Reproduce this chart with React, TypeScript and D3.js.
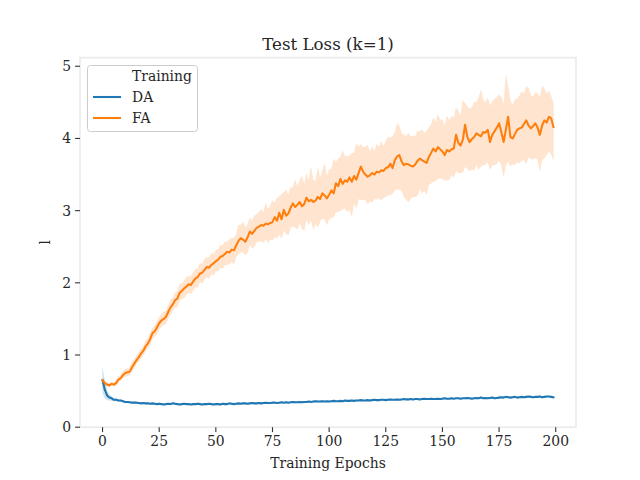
import React from "react";
import * as d3 from "d3";

const EPOCHS: number[] = d3.range(0, 200);

const FA_MEAN: number[] = [
  0.65, 0.61, 0.59, 0.58, 0.60, 0.59, 0.61, 0.66, 0.68, 0.72,
  0.75, 0.76, 0.77, 0.83, 0.88, 0.93, 0.97, 1.02, 1.06, 1.12,
  1.16, 1.22, 1.30, 1.33, 1.38, 1.44, 1.48, 1.50, 1.53, 1.60,
  1.66, 1.70, 1.76, 1.78, 1.86, 1.89, 1.92, 1.95, 1.98, 1.97,
  2.02, 2.06, 2.08, 2.13, 2.14, 2.18, 2.22, 2.21, 2.25, 2.27,
  2.30, 2.32, 2.36, 2.37, 2.40, 2.43, 2.42, 2.46, 2.45, 2.52,
  2.58, 2.62, 2.60, 2.57, 2.63, 2.71, 2.68, 2.72, 2.76, 2.78,
  2.80, 2.79, 2.82, 2.81, 2.83, 2.84, 2.91, 2.86, 2.97, 2.88,
  3.01, 2.93, 2.96, 3.04, 3.10, 3.05, 3.08, 3.12, 3.06, 3.09,
  3.18, 3.13, 3.15, 3.12, 3.14, 3.19, 3.16, 3.24, 3.21, 3.17,
  3.22, 3.28, 3.24, 3.38, 3.34, 3.44, 3.37, 3.42, 3.40, 3.46,
  3.40, 3.48, 3.43, 3.52, 3.61, 3.54, 3.50, 3.47, 3.49, 3.52,
  3.50, 3.54, 3.53, 3.56, 3.55, 3.59, 3.60, 3.65, 3.59, 3.70,
  3.75, 3.77, 3.68, 3.63, 3.65, 3.64, 3.62, 3.61, 3.64, 3.69,
  3.72, 3.70, 3.68, 3.66, 3.74, 3.80, 3.86, 3.82, 3.88, 3.85,
  3.82, 3.77, 3.84, 3.82, 3.85, 3.86, 4.05, 3.94, 3.90, 3.98,
  4.19, 4.02, 3.95, 3.99, 4.02, 4.07, 4.05, 4.03, 4.09, 4.08,
  4.12, 3.95, 4.05, 4.10, 4.15, 4.21, 4.09, 3.95, 4.12, 4.30,
  4.02, 4.00, 4.06, 4.12, 4.14, 4.15, 4.20, 4.25, 4.18, 4.14,
  4.17, 4.21, 4.15, 4.05, 4.18, 4.25, 4.22, 4.30, 4.28, 4.16,
];

const FA_UP: number[] = [
  0.04, 0.03, 0.03, 0.03, 0.03, 0.03, 0.04, 0.05, 0.04, 0.05,
  0.06, 0.05, 0.06, 0.07, 0.06, 0.06, 0.07, 0.06, 0.07, 0.08,
  0.07, 0.08, 0.07, 0.08, 0.09, 0.08, 0.09, 0.10, 0.08, 0.09,
  0.10, 0.09, 0.11, 0.10, 0.12, 0.10, 0.11, 0.13, 0.11, 0.12,
  0.12, 0.13, 0.11, 0.14, 0.12, 0.15, 0.13, 0.14, 0.16, 0.13,
  0.15, 0.14, 0.16, 0.15, 0.17, 0.14, 0.18, 0.16, 0.17, 0.15,
  0.22, 0.18, 0.24, 0.20, 0.17, 0.19, 0.18, 0.21, 0.19, 0.20,
  0.22, 0.19, 0.28, 0.21, 0.24, 0.30, 0.20, 0.32, 0.22, 0.35,
  0.24, 0.36, 0.26, 0.28, 0.22, 0.38, 0.25, 0.30, 0.42, 0.27,
  0.33, 0.28, 0.45, 0.30, 0.27, 0.40, 0.29, 0.31, 0.44, 0.30,
  0.35, 0.30, 0.48, 0.29, 0.38, 0.31, 0.46, 0.33, 0.35, 0.30,
  0.40, 0.32, 0.50, 0.36, 0.31, 0.34, 0.38, 0.44, 0.33, 0.36,
  0.32, 0.38, 0.35, 0.40, 0.34, 0.37, 0.42, 0.36, 0.44, 0.38,
  0.46, 0.40, 0.39, 0.42, 0.38, 0.44, 0.40, 0.43, 0.39, 0.41,
  0.38, 0.42, 0.40, 0.44, 0.41, 0.39, 0.43, 0.40, 0.45, 0.41,
  0.44, 0.40, 0.47, 0.43, 0.46, 0.42, 0.38, 0.44, 0.41, 0.55,
  0.30, 0.42, 0.46, 0.44, 0.48, 0.43, 0.52, 0.64, 0.45, 0.42,
  0.44, 0.50, 0.46, 0.45, 0.42, 0.40, 0.48, 0.52, 0.76, 0.42,
  0.50, 0.46, 0.48, 0.43, 0.45, 0.50, 0.42, 0.47, 0.52, 0.46,
  0.40, 0.43, 0.47, 0.52, 0.55, 0.44, 0.40, 0.36, 0.30, 0.32,
];

const FA_DOWN: number[] = [
  0.03, 0.03, 0.03, 0.03, 0.02, 0.03, 0.03, 0.04, 0.04, 0.04,
  0.05, 0.05, 0.05, 0.06, 0.06, 0.05, 0.06, 0.07, 0.06, 0.07,
  0.07, 0.08, 0.07, 0.08, 0.09, 0.08, 0.09, 0.08, 0.10, 0.09,
  0.10, 0.09, 0.10, 0.12, 0.10, 0.11, 0.13, 0.11, 0.12, 0.12,
  0.13, 0.12, 0.14, 0.12, 0.15, 0.13, 0.14, 0.15, 0.13, 0.16,
  0.14, 0.16, 0.15, 0.17, 0.15, 0.18, 0.16, 0.17, 0.19, 0.16,
  0.18, 0.20, 0.17, 0.19, 0.21, 0.18, 0.20, 0.22, 0.19, 0.21,
  0.22, 0.24, 0.21, 0.26, 0.23, 0.25, 0.28, 0.24, 0.30, 0.26,
  0.28, 0.25, 0.30, 0.27, 0.32, 0.28, 0.34, 0.29, 0.31, 0.36,
  0.30, 0.33, 0.28, 0.38, 0.32, 0.42, 0.31, 0.35, 0.33, 0.37,
  0.34, 0.38, 0.33, 0.40, 0.36, 0.44, 0.35, 0.39, 0.42, 0.45,
  0.48, 0.37, 0.40, 0.36, 0.46, 0.39, 0.35, 0.38, 0.36, 0.41,
  0.34, 0.38, 0.36, 0.42, 0.37, 0.40, 0.38, 0.44, 0.35, 0.42,
  0.45, 0.48, 0.40, 0.44, 0.50, 0.52, 0.46, 0.42, 0.45, 0.48,
  0.42, 0.46, 0.40, 0.44, 0.38, 0.42, 0.46, 0.41, 0.44, 0.40,
  0.38, 0.35, 0.42, 0.39, 0.36, 0.40, 0.50, 0.42, 0.38, 0.45,
  0.58, 0.44, 0.40, 0.42, 0.46, 0.43, 0.48, 0.42, 0.46, 0.44,
  0.45, 0.38, 0.42, 0.47, 0.50, 0.52, 0.46, 0.48, 0.48, 0.62,
  0.40, 0.36, 0.42, 0.45, 0.48, 0.46, 0.50, 0.60, 0.44, 0.42,
  0.46, 0.48, 0.44, 0.50, 0.48, 0.52, 0.45, 0.48, 0.50, 0.46,
];

const DA_MEAN: number[] = [
  0.65, 0.52, 0.44, 0.41, 0.40, 0.38, 0.38, 0.37, 0.37, 0.36,
  0.35, 0.35, 0.345, 0.34, 0.34, 0.34, 0.335, 0.33, 0.335, 0.33,
  0.33, 0.325, 0.33, 0.325, 0.32, 0.325, 0.32, 0.315, 0.32, 0.325,
  0.32, 0.33, 0.325, 0.32, 0.315, 0.32, 0.325, 0.32, 0.32, 0.315,
  0.32, 0.32, 0.325, 0.32, 0.315, 0.32, 0.32, 0.325, 0.32, 0.315,
  0.32, 0.32, 0.315, 0.325, 0.32, 0.32, 0.33, 0.325, 0.32, 0.325,
  0.33, 0.325, 0.33, 0.33, 0.325, 0.33, 0.335, 0.33, 0.33, 0.335,
  0.33, 0.335, 0.34, 0.335, 0.335, 0.34, 0.34, 0.335, 0.34, 0.345,
  0.34, 0.345, 0.34, 0.345, 0.35, 0.345, 0.345, 0.35, 0.345, 0.35,
  0.35, 0.355, 0.35, 0.355, 0.36, 0.355, 0.355, 0.36, 0.355, 0.36,
  0.355, 0.36, 0.365, 0.36, 0.36, 0.365, 0.36, 0.37, 0.365, 0.365,
  0.37, 0.365, 0.37, 0.37, 0.375, 0.37, 0.37, 0.375, 0.37, 0.375,
  0.38, 0.375, 0.375, 0.38, 0.38, 0.375, 0.38, 0.385, 0.38, 0.38,
  0.385, 0.38, 0.385, 0.39, 0.385, 0.385, 0.39, 0.385, 0.39, 0.39,
  0.385, 0.39, 0.395, 0.39, 0.39, 0.395, 0.39, 0.39, 0.395, 0.39,
  0.395, 0.40, 0.395, 0.395, 0.40, 0.395, 0.40, 0.40, 0.395, 0.40,
  0.40, 0.405, 0.40, 0.395, 0.40, 0.405, 0.40, 0.41, 0.40, 0.405,
  0.40, 0.405, 0.41, 0.40, 0.405, 0.41, 0.415, 0.41, 0.42, 0.415,
  0.41, 0.415, 0.42, 0.41, 0.415, 0.42, 0.415, 0.42, 0.425, 0.42,
  0.415, 0.42, 0.42, 0.425, 0.415, 0.42, 0.425, 0.425, 0.42, 0.415,
];

const DA_CI: number[] = [
  0.17, 0.12, 0.06, 0.04, 0.03, 0.02, 0.02, 0.015, 0.015, 0.015,
  0.012, 0.012, 0.01, 0.012, 0.01, 0.01, 0.012, 0.01, 0.01, 0.012,
  0.01, 0.01, 0.012, 0.01, 0.01, 0.012, 0.01, 0.01, 0.012, 0.01,
  0.01, 0.012, 0.01, 0.01, 0.012, 0.01, 0.01, 0.012, 0.01, 0.01,
  0.012, 0.01, 0.01, 0.012, 0.01, 0.01, 0.012, 0.01, 0.01, 0.012,
  0.01, 0.01, 0.012, 0.01, 0.01, 0.012, 0.01, 0.01, 0.012, 0.01,
  0.01, 0.012, 0.01, 0.01, 0.012, 0.01, 0.01, 0.012, 0.01, 0.01,
  0.012, 0.01, 0.01, 0.012, 0.01, 0.01, 0.012, 0.01, 0.01, 0.012,
  0.01, 0.01, 0.012, 0.01, 0.01, 0.012, 0.01, 0.01, 0.012, 0.01,
  0.01, 0.012, 0.01, 0.01, 0.012, 0.01, 0.01, 0.012, 0.01, 0.01,
  0.012, 0.01, 0.01, 0.012, 0.01, 0.01, 0.012, 0.01, 0.01, 0.012,
  0.01, 0.01, 0.012, 0.01, 0.01, 0.012, 0.01, 0.01, 0.012, 0.01,
  0.01, 0.012, 0.01, 0.01, 0.012, 0.01, 0.01, 0.012, 0.01, 0.01,
  0.012, 0.01, 0.01, 0.012, 0.01, 0.01, 0.012, 0.01, 0.01, 0.012,
  0.01, 0.01, 0.012, 0.01, 0.01, 0.012, 0.01, 0.01, 0.012, 0.01,
  0.01, 0.012, 0.01, 0.01, 0.012, 0.01, 0.01, 0.012, 0.01, 0.01,
  0.012, 0.01, 0.01, 0.012, 0.01, 0.01, 0.012, 0.01, 0.01, 0.012,
  0.01, 0.01, 0.012, 0.01, 0.01, 0.012, 0.01, 0.01, 0.012, 0.01,
  0.01, 0.012, 0.01, 0.01, 0.012, 0.01, 0.01, 0.012, 0.01, 0.01,
  0.012, 0.01, 0.01, 0.012, 0.01, 0.01, 0.012, 0.01, 0.01, 0.012,
];

const X_TICKS: number[] = [0, 25, 50, 75, 100, 125, 150, 175, 200];
const Y_TICKS: number[] = [0, 1, 2, 3, 4, 5];
const SERIES_NAMES: string[] = ["DA", "FA"];
const SERIES_COLORS: string[] = ["#1f77b4", "#ff7f0e"];

const W = 640;
const H = 480;
const L = 80;
const R = 576;
const T = 57.6;
const B = 427.2;
const FONT = "'DejaVu Serif', serif";

type Pt = { x: number; m: number; lo: number; hi: number };

export default function App() {
  const x = d3.scaleLinear().domain([-9.95, 208.95]).range([L, R]);
  const y = d3.scaleLinear().domain([0, 5.12]).range([B, T]);

  const da: Pt[] = EPOCHS.map((e, i) => ({
    x: e,
    m: DA_MEAN[i],
    lo: DA_MEAN[i] - DA_CI[i],
    hi: DA_MEAN[i] + DA_CI[i],
  }));
  const fa: Pt[] = EPOCHS.map((e, i) => ({
    x: e,
    m: FA_MEAN[i],
    lo: FA_MEAN[i] - FA_DOWN[i],
    hi: FA_MEAN[i] + FA_UP[i],
  }));
  const series = [da, fa];

  const area = d3
    .area<Pt>()
    .x((d) => x(d.x))
    .y0((d) => y(d.lo))
    .y1((d) => y(d.hi));
  const line = d3
    .line<Pt>()
    .x((d) => x(d.x))
    .y((d) => y(d.m));

  const spine = "#ebebeb";
  const tickColor = "#333";

  return (
    <svg
      width={W}
      height={H}
      style={{ position: "absolute", left: 0, top: 0, background: "#fff" }}
      fontFamily={FONT}
    >
      <rect x={0} y={0} width={W} height={H} fill="#fff" />
      {series.map((s, i) => (
        <path key={"a" + i} d={area(s) || ""} fill={SERIES_COLORS[i]} fillOpacity={0.2} stroke={SERIES_COLORS[i]} strokeOpacity={0.08} strokeWidth={0.6} />
      ))}
      {series.map((s, i) => (
        <path key={"l" + i} d={line(s) || ""} fill="none" stroke={SERIES_COLORS[i]} strokeWidth={2.08} strokeLinejoin="round" strokeLinecap="square" />
      ))}
      {/* spines */}
      <rect x={L} y={T} width={R - L} height={B - T} fill="none" stroke={spine} strokeWidth={1.7} />
      {/* ticks */}
      {X_TICKS.map((t) => (
        <g key={"x" + t}>
          <line x1={x(t)} x2={x(t)} y1={B} y2={B + 4.9} stroke={tickColor} strokeWidth={1.1} />
          <text x={x(t)} y={B + 19} textAnchor="middle" fontSize={13.9} fill="#262626">
            {t}
          </text>
        </g>
      ))}
      {Y_TICKS.map((t) => (
        <g key={"y" + t}>
          <line x1={L - 4.9} x2={L} y1={y(t)} y2={y(t)} stroke={tickColor} strokeWidth={1.1} />
          <text x={L - 9} y={y(t) + 5} textAnchor="end" fontSize={13.9} fill="#262626">
            {t}
          </text>
        </g>
      ))}
      <text x={(L + R) / 2} y={468} textAnchor="middle" fontSize={13.9} fill="#262626">
        Training Epochs
      </text>
      <text transform={`translate(50,${(T + B) / 2}) rotate(-90)`} textAnchor="middle" fontSize={13.9} fill="#262626">
        l
      </text>
      <text x={(L + R) / 2} y={50} textAnchor="middle" fontSize={16.7} fill="#262626">
        Test Loss (k=1)
      </text>
      {/* legend */}
      <g>
        <rect x={87.5} y={65.5} width={110} height={66} rx={3} ry={3} fill="#fff" fillOpacity={0.8} stroke="#cccccc" strokeWidth={1} />
        <text x={132} y={81} fontSize={13.9} fill="#262626">
          Training
        </text>
        {SERIES_NAMES.map((n, i) => (
          <g key={n}>
            <line x1={93} x2={121} y1={97 + i * 21} y2={97 + i * 21} stroke={SERIES_COLORS[i]} strokeWidth={2.08} />
            <text x={132} y={102 + i * 21} fontSize={13.9} fill="#262626">
              {n}
            </text>
          </g>
        ))}
      </g>
    </svg>
  );
}
